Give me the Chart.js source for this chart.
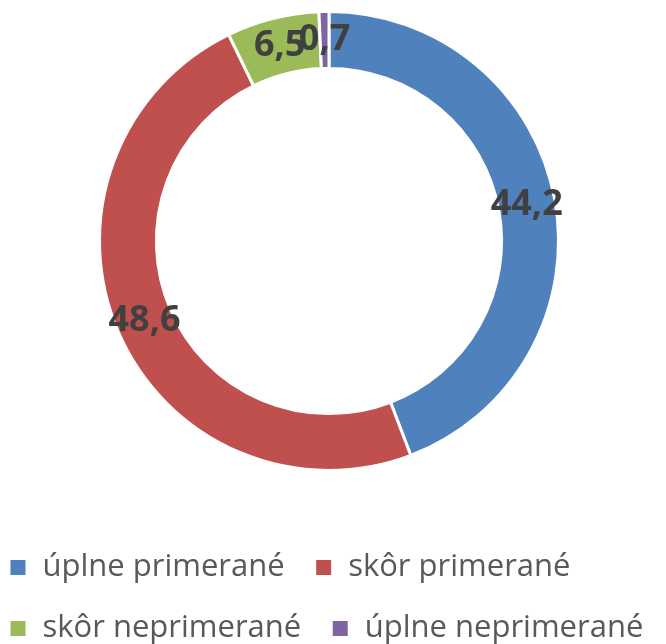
<!DOCTYPE html>
<html>
<head>
<meta charset="utf-8">
<script src="https://cdn.jsdelivr.net/npm/chart.js@4.4.1/dist/chart.umd.min.js"></script>
<style>
  html, body { margin: 0; padding: 0; background: #fff; overflow: hidden; width: 666px; height: 644px; }
  /* plátno je o kúsok väčšie a posunuté, aby stred prstenca sedel */
  #wrap { width: 700px; height: 684px; position: absolute; left: -21px; top: -40px; }
</style>
</head>
<body>
<div id="wrap"><canvas id="donutChart"></canvas></div>
<script>
// kategórie a hodnoty (%)
var kategorie = ["úplne primerané", "skôr primerané", "skôr neprimerané", "úplne neprimerané"];
var hodnoty = [44.2, 48.6, 6.5, 0.7];
var farby = ["#4F81BD", "#C0504D", "#9BBB59", "#8064A2"];

// popisky hodnôt v strede prstenca
var popisky = {
  id: "popisky",
  afterDatasetsDraw: function (chart) {
    var ctx = chart.ctx;
    var meta = chart.getDatasetMeta(0);
    ctx.save();
    ctx.font = "bold 36px 'Open Sans'";
    ctx.fillStyle = "#404040";
    ctx.textAlign = "center";
    ctx.textBaseline = "middle";
    meta.data.forEach(function (arc, i) {
      var p = arc.getCenterPoint();
      ctx.fillText(hodnoty[i].toFixed(1).replace(".", ","), p.x, p.y);
    });
    ctx.restore();
  }
};

var ctxD = document.getElementById("donutChart").getContext("2d");
var donut = new Chart(ctxD, {
  type: "doughnut",
  data: {
    labels: kategorie,
    datasets: [
      {
        data: hodnoty,
        backgroundColor: farby,
        borderColor: "#ffffff",
        borderWidth: 3,
        radius: 229.5,
      },
    ],
  },
  options: {
    responsive: true,
    maintainAspectRatio: false,
    animation: false,
    events: [],
    cutout: "75.2%",
    plugins: {
      tooltip: { enabled: false },
      legend: {
        position: "bottom",
        align: "start",
        maxHeight: 122,
        labels: {
          boxWidth: 18,
          boxHeight: 18,
          padding: 30,
          color: "#595959",
          font: { family: "'Open Sans'", size: 31 },
        },
      },
    },
  },
  plugins: [popisky],
});
</script>
</body>
</html>
